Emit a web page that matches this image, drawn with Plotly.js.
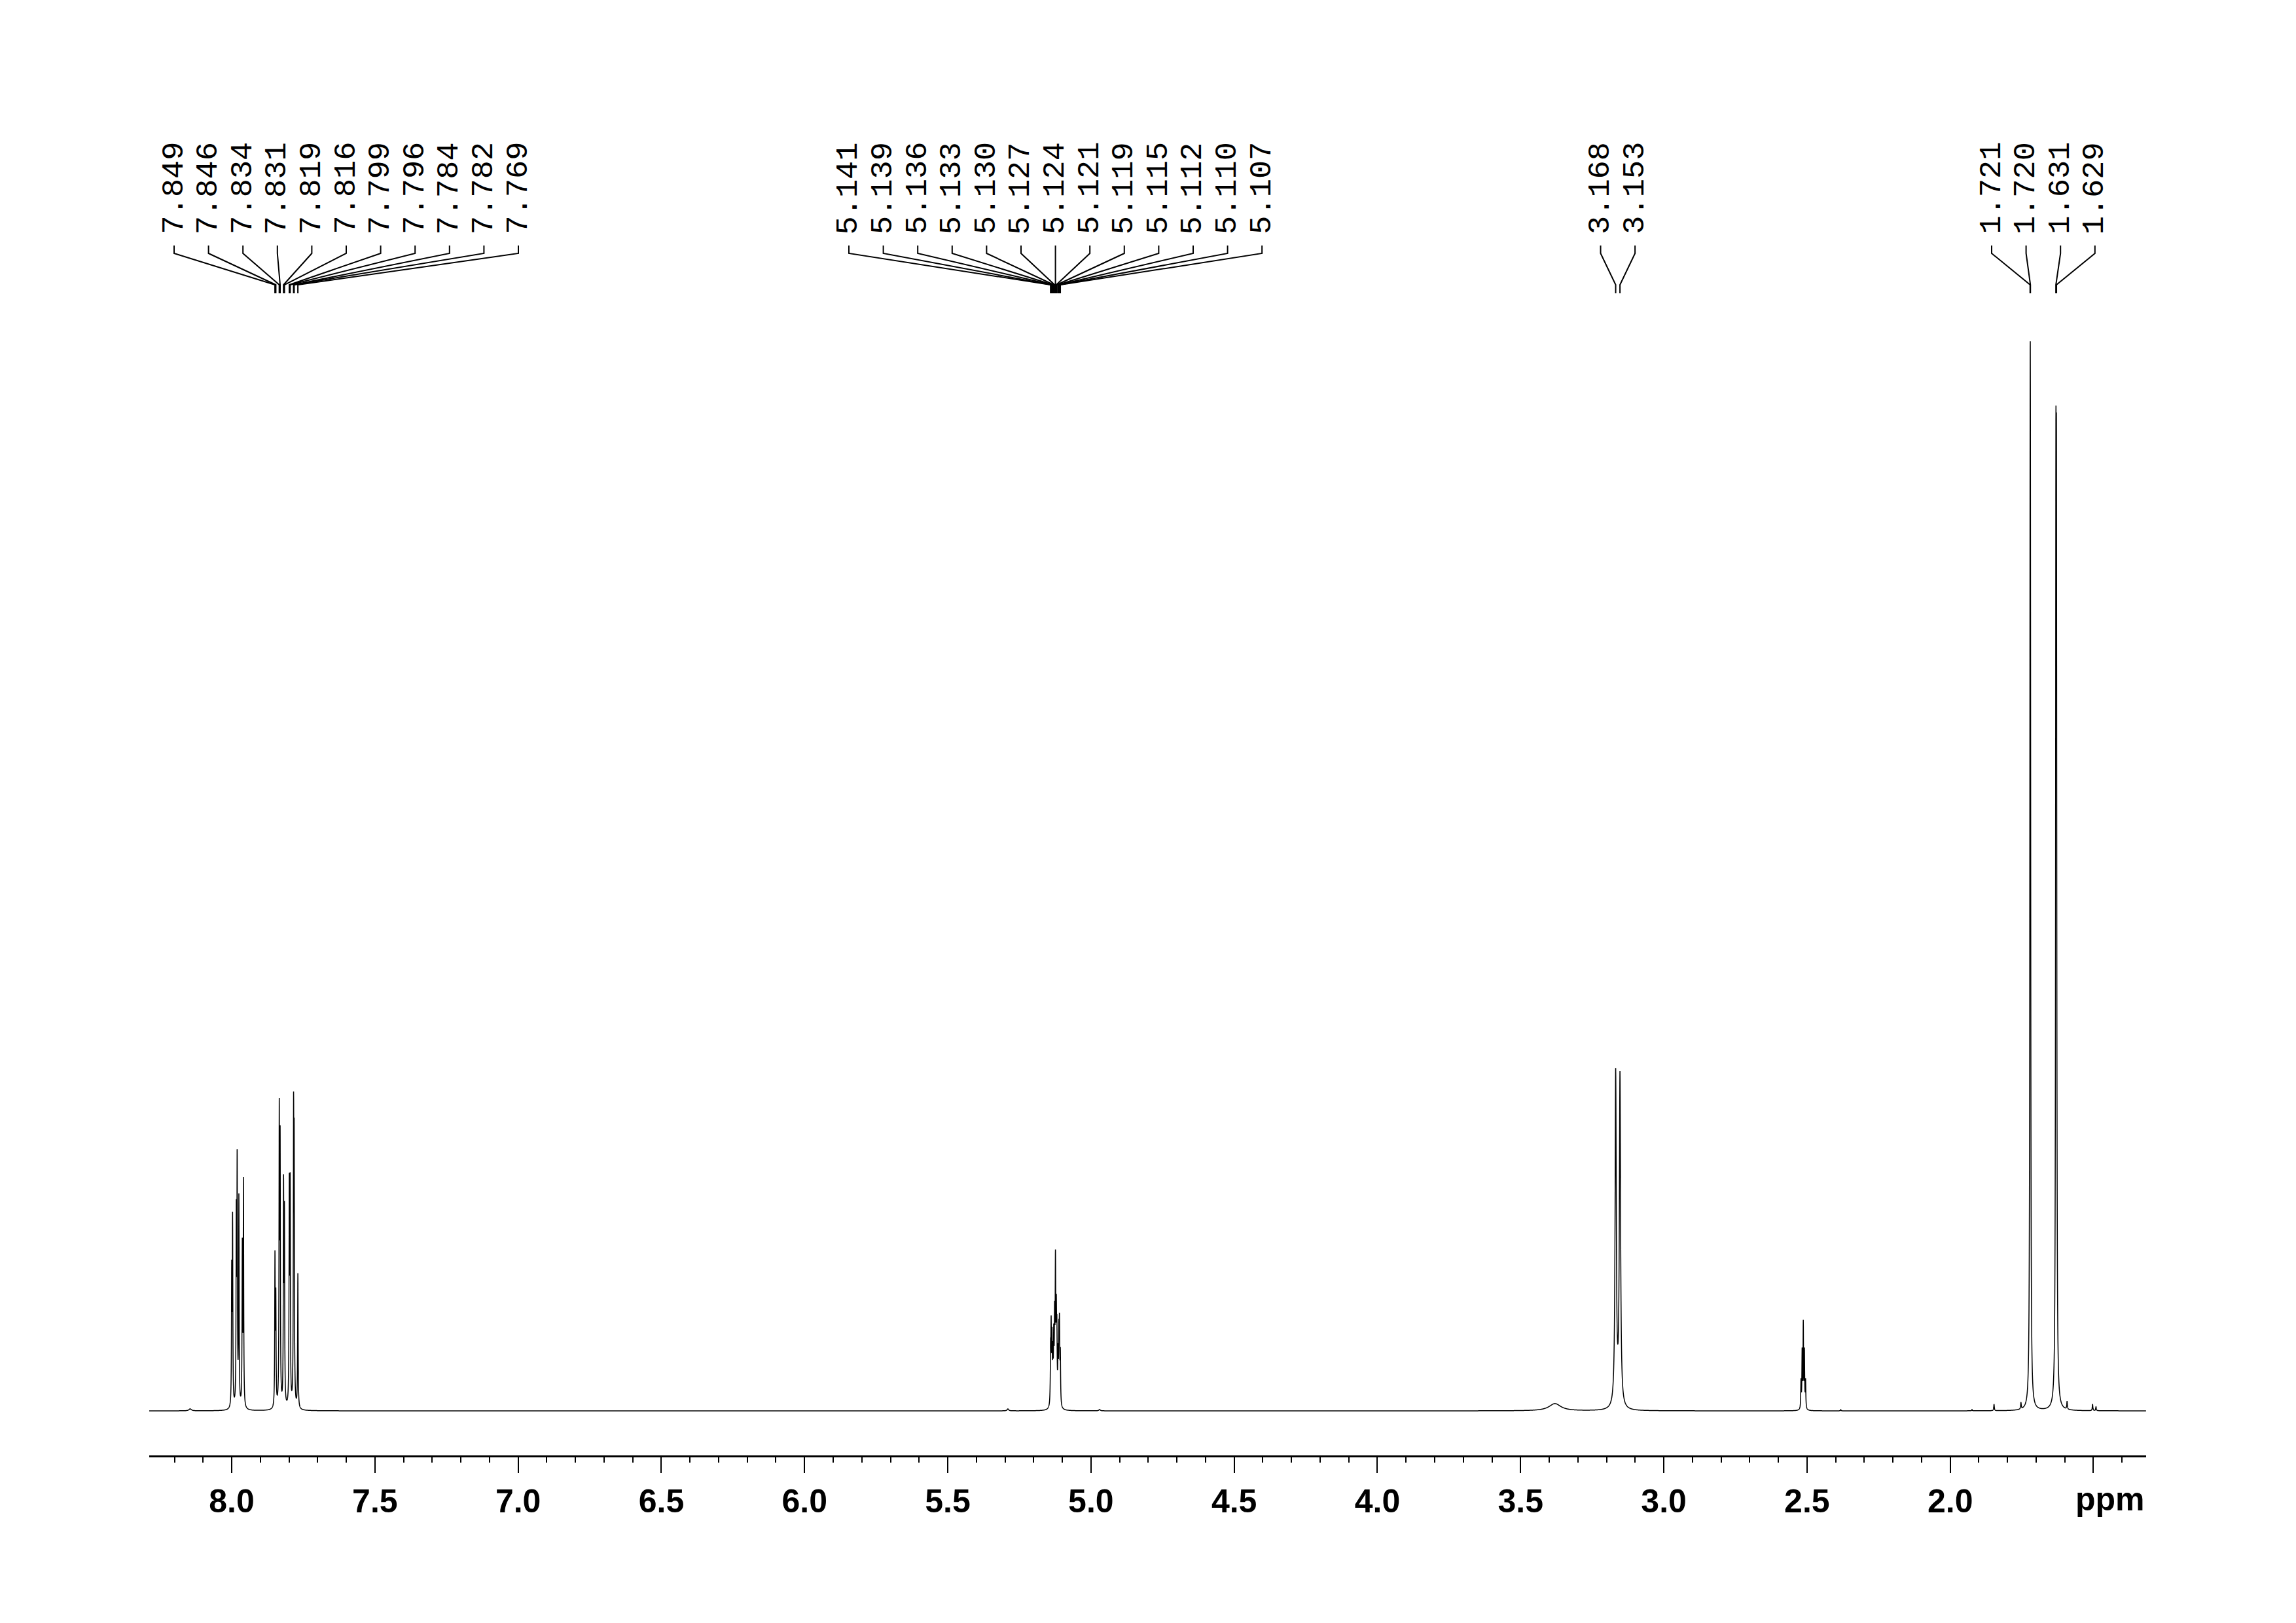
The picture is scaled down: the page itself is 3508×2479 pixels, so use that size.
<!DOCTYPE html>
<html><head><meta charset="utf-8">
<script src="https://cdn.plot.ly/plotly-3.0.1.min.js"></script>
<style>html,body{margin:0;padding:0;background:#fff}#chart{width:3508px;height:2479px}</style>
</head><body><div id="chart"></div>
<script>
// ---------------- data ----------------
// aromatic multiplet near 8.0 ppm (unlabelled)
const arA_ppm = [8.000, 7.997, 7.984, 7.981, 7.975, 7.963, 7.959];
const arA_int = [200, 280, 280, 360, 315, 240, 340];
const arA_w = 0.0010;
// aromatic multiplet near 7.8 ppm
const arB_ppm = [7.849, 7.846, 7.834, 7.831, 7.819, 7.816, 7.799, 7.796, 7.784, 7.782, 7.769];
const arB_int = [225, 160, 434, 387, 326, 282, 325, 325, 410, 360, 205];
const arB_w = 0.0010;
// vinyl multiplet near 5.12 ppm
const vin_ppm = [5.141, 5.139, 5.136, 5.133, 5.130, 5.127, 5.124, 5.121, 5.119, 5.115, 5.112, 5.110, 5.107];
const vin_int = [75, 110, 95, 70, 95, 120, 205, 120, 95, 70, 95, 110, 75];
const vin_w = 0.0011;
// CH2 doublet
const ch2_ppm = [3.168, 3.153];
const ch2_int = [510, 505];
const ch2_w = 0.0025;
// residual DMSO quintet
const dmso_ppm = [2.521, 2.517, 2.513, 2.509, 2.505];
const dmso_int = [42, 85, 128, 85, 42];
const dmso_w = 0.0010;
// methyl singlets
const me1_ppm = [1.721, 1.720];
const me1_int = [945, 935];
const me2_ppm = [1.631, 1.629];
const me2_int = [1170, 1150];
const me_w = 0.0013;
// small features (water, impurities, satellites)
const minor_ppm = [8.145, 5.290, 4.970, 3.380, 2.382, 1.924, 1.847, 1.753, 1.592, 1.503, 1.491];
const minor_int = [3, 3, 2, 11, 2, 2, 10, 10, 12, 10, 6];
const minor_w = [0.005, 0.003, 0.003, 0.025, 0.001, 0.001, 0.0012, 0.0012, 0.0012, 0.0012, 0.0012];

// peak labels (ppm)
const lab1 = [7.849, 7.846, 7.834, 7.831, 7.819, 7.816, 7.799, 7.796, 7.784, 7.782, 7.769];
const lab2 = [5.141, 5.139, 5.136, 5.133, 5.130, 5.127, 5.124, 5.121, 5.119, 5.115, 5.112, 5.110, 5.107];
const lab3 = [3.168, 3.153];
const lab4 = [1.721, 1.720, 1.631, 1.629];

// axis
const xStart = 8.288, xEnd = 1.316;
const majorTicks = [8.0, 7.5, 7.0, 6.5, 6.0, 5.5, 5.0, 4.5, 4.0, 3.5, 3.0, 2.5, 2.0, 1.5];
const majorText  = ['8.0','7.5','7.0','6.5','6.0','5.5','5.0','4.5','4.0','3.5','3.0','2.5','2.0',''];
const unitLabel = 'ppm';

// ---------------- build spectrum from peak list (Lorentzian lines) ----------------
const peaks = [];
function addGroup(pp, ii, w) { pp.forEach((p, k) => peaks.push([p, ii[k], Array.isArray(w) ? w[k] : w])); }
addGroup(arA_ppm, arA_int, arA_w);
addGroup(arB_ppm, arB_int, arB_w);
addGroup(vin_ppm, vin_int, vin_w);
addGroup(ch2_ppm, ch2_int, ch2_w);
addGroup(dmso_ppm, dmso_int, dmso_w);
addGroup(me1_ppm, me1_int, me_w);
addGroup(me2_ppm, me2_int, me_w);
addGroup(minor_ppm, minor_int, minor_w);

const grid = [];
const step = 0.0003;
for (let x = xStart; x >= xEnd; x -= step) grid.push(x);
peaks.forEach(p => grid.push(p[0]));
grid.sort((a, b) => b - a);
const ys = grid.map(x => {
  let s = 0;
  for (const [c, h, g] of peaks) { const d = x - c; s += h * g * g / (g * g + d * d); }
  return s;
});

// ---------------- layout geometry ----------------
const W = 3508, H = 2479;
const mL = 228, mR = 229, mT = 100, mB = 256;
const plotW = W - mL - mR, plotH = H - mT - mB;
const pxPerPpm = plotW / (xStart - xEnd);
const yBottomVal = -68; // baseline sits 68px above axis line
const paperY = Y => (H - mB - Y) / plotH;

const labelSpacing = 52.6 / pxPerPpm;
const leftLimit = xStart - 38 / pxPerPpm;

const annotations = [];
const shapes = [];
const Y_TEXT = 360, Y1 = 375, Y2 = 387, Y3 = 435, Y4 = 448;

[lab1, lab2, lab3, lab4].forEach(group => {
  const n = group.length;
  let center = (group[0] + group[n - 1]) / 2;
  let first = center + (n - 1) / 2 * labelSpacing;
  if (first > leftLimit) first = leftLimit;
  group.forEach((p, i) => {
    const lx = first - i * labelSpacing;
    annotations.push({
      x: lx, xref: 'x', y: paperY(Y_TEXT), yref: 'paper',
      text: p.toFixed(3), showarrow: false, textangle: -90,
      xanchor: 'center', yanchor: 'bottom',
      font: {family: 'Liberation Mono, Courier New, monospace', size: 47, color: '#000'}
    });
    shapes.push({
      type: 'path', xref: 'x', yref: 'paper',
      path: `M ${lx},${paperY(Y1)} L ${lx},${paperY(Y2)} L ${p},${paperY(Y3)} L ${p},${paperY(Y4)}`,
      line: {color: '#000', width: 2}
    });
  });
});

annotations.push({
  x: 1, xref: 'paper', xanchor: 'right', y: paperY(2290), yref: 'paper', yanchor: 'middle',
  text: unitLabel, showarrow: false,
  font: {family: 'Liberation Sans, Arial, sans-serif', size: 50, weight: 'bold', color: '#000'}
});

const trace = {
  x: grid, y: ys, type: 'scatter', mode: 'lines',
  line: {color: '#000', width: 1.5, simplify: false},
  hoverinfo: 'skip'
};

const layout = {
  width: W, height: H,
  margin: {l: mL, r: mR, t: mT, b: mB},
  paper_bgcolor: '#fff', plot_bgcolor: '#fff',
  showlegend: false,
  xaxis: {
    range: [xStart, xEnd], showgrid: false, zeroline: false,
    showline: true, linecolor: '#000', linewidth: 3,
    tickmode: 'array', tickvals: majorTicks, ticktext: majorText,
    ticks: 'outside', ticklen: 24, tickwidth: 2, tickcolor: '#000',
    ticklabelstandoff: 0,
    tickfont: {family: 'Liberation Sans, Arial, sans-serif', size: 50, weight: 'bold', color: '#000'},
    minor: {tickmode: 'linear', tick0: 0, dtick: 0.1, ticks: 'outside', ticklen: 8, tickwidth: 2, tickcolor: '#000', showgrid: false}
  },
  yaxis: {
    range: [yBottomVal, yBottomVal + plotH], visible: false, showgrid: false, zeroline: false, fixedrange: true
  },
  annotations: annotations,
  shapes: shapes
};

Plotly.newPlot('chart', [trace], layout, {staticPlot: true});
</script></body></html>
